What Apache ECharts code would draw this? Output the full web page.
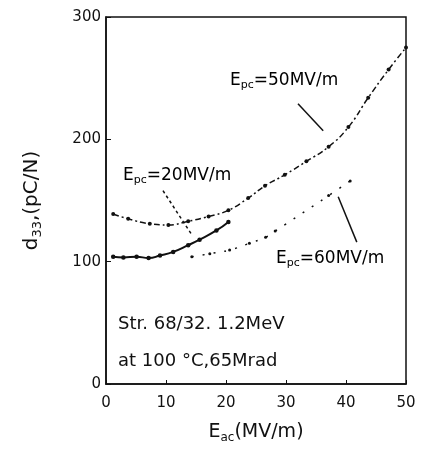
<!DOCTYPE html>
<html>
<head>
<meta charset="utf-8">
<script src="https://cdn.jsdelivr.net/npm/echarts@6/dist/echarts.min.js"></script>
<style>
  body { margin: 0; background: #fff; }
  #chart { width: 421px; height: 449px; }
</style>
</head>
<body>
<div id="chart"></div>
<script>
const xTicks = [0, 10, 20, 30, 40, 50]
const yTicks = [0, 100, 200, 300]

// Epc = 50 MV/m (dash-dot, markers)
const curve50 = [
  [1.2, 139], [3.7, 135], [7.3, 131], [10.4, 130], [13.7, 133], [17.1, 137],
  [20.4, 142], [23.7, 152], [26.5, 162], [29.8, 171], [33.4, 182], [37.1, 194],
  [40.4, 210], [43.7, 234], [47.1, 257], [50, 275]
]
// Epc = 20 MV/m (solid, markers)
const curve20 = [
  [1.2, 104], [2.9, 103.5], [5.1, 104], [7.1, 103], [9.0, 105], [11.2, 108],
  [13.7, 113.5], [15.6, 118], [18.4, 125.5], [20.4, 132.5]
]
// Epc = 60 MV/m (sparse dots)
const curve60 = [
  [14.3, 104], [17.3, 106.5], [20.6, 109.5], [23.9, 115], [26.6, 120],
  [28.2, 125], [37.1, 154], [40.7, 166]
]

// pointer lines from the labels to the curves
const ptr50 = [[32, 229], [36.2, 207]]
const ptr20 = [[9.5, 158], [14.3, 122]]
const ptr60 = [[38.7, 153], [41.8, 116]]

const font = 'DejaVu Sans, sans-serif'
function subRich (size) {
  return {
    b: { fontFamily: font, fontSize: size, color: '#111', lineHeight: size + 4, verticalAlign: 'middle' },
    s: { fontFamily: font, fontSize: Math.round(size * 0.65), color: '#111', lineHeight: size + 4, verticalAlign: 'bottom', padding: [8, 0, 0, 0] }
  }
}

function ptrLine (pts, type) {
  return {
    silent: true,
    symbol: 'none',
    label: { show: false },
    lineStyle: { color: '#111', width: 1.5, type: type },
    data: [[{ coord: pts[0] }, { coord: pts[1] }]]
  }
}

const myChart = echarts.init(document.getElementById('chart'))
const option = {
  animation: false,
  backgroundColor: '#fff',
  grid: {
    left: 106, right: 15, top: 17, bottom: 65,
    outerBoundsMode: 'none',
    show: true, borderColor: '#111', borderWidth: 1.5
  },
  xAxis: {
    type: 'value', min: 0, max: 50, interval: 10,
    name: '{b|E}{s|ac}{b|(MV/m)}',
    nameLocation: 'middle', nameGap: 37,
    nameTextStyle: { rich: subRich(19) },
    axisLine: { lineStyle: { color: '#111', width: 1.5 } },
    axisTick: { inside: true, length: 4, lineStyle: { color: '#111' } },
    axisLabel: { fontFamily: font, fontSize: 15, color: '#111', margin: 12 },
    splitLine: { show: false }
  },
  yAxis: {
    type: 'value', min: 0, max: 300, interval: 100,
    name: '{b|d}{s|33}{b|,(pC/N)}',
    nameLocation: 'middle', nameGap: 62, nameRotate: 90,
    nameTextStyle: { rich: subRich(20) },
    axisLine: { lineStyle: { color: '#111', width: 1.5 } },
    axisTick: { inside: true, length: 5, lineStyle: { color: '#111' } },
    axisLabel: { fontFamily: font, fontSize: 15, color: '#111', margin: 5 },
    splitLine: { show: false }
  },
  series: [
    {
      name: 'Epc=50MV/m', type: 'line', smooth: true, data: curve50,
      symbol: 'circle', symbolSize: 4,
      itemStyle: { color: '#111' },
      lineStyle: { color: '#111', width: 1.5, type: [6, 3, 2, 3] },
      markLine: ptrLine(ptr50, 'solid')
    },
    {
      name: 'Epc=20MV/m', type: 'line', smooth: true, data: curve20,
      symbol: 'circle', symbolSize: 4.5,
      itemStyle: { color: '#111' },
      lineStyle: { color: '#111', width: 2 },
      markLine: ptrLine(ptr20, [3, 3])
    },
    {
      name: 'Epc=60MV/m', type: 'line', smooth: true, data: curve60,
      symbol: 'circle', symbolSize: 3,
      itemStyle: { color: '#111' },
      lineStyle: { color: '#111', width: 1.5, type: [2, 9] },
      markLine: ptrLine(ptr60, 'solid')
    }
  ],
  graphic: [
    { type: 'text', left: 230, top: 72, style: { text: '{b|E}{s|pc}{b|=50MV/m}', rich: subRich(17) } },
    { type: 'text', left: 123, top: 167, style: { text: '{b|E}{s|pc}{b|=20MV/m}', rich: subRich(17) } },
    { type: 'text', left: 276, top: 250, style: { text: '{b|E}{s|pc}{b|=60MV/m}', rich: subRich(17) } },
    { type: 'text', left: 118, top: 315, style: { text: 'Str. 68/32. 1.2MeV', font: '18px ' + font, fill: '#111' } },
    { type: 'text', left: 118, top: 352, style: { text: 'at 100 °C,65Mrad', font: '18px ' + font, fill: '#111' } }
  ]
}
myChart.setOption(option)
</script>
</body>
</html>
